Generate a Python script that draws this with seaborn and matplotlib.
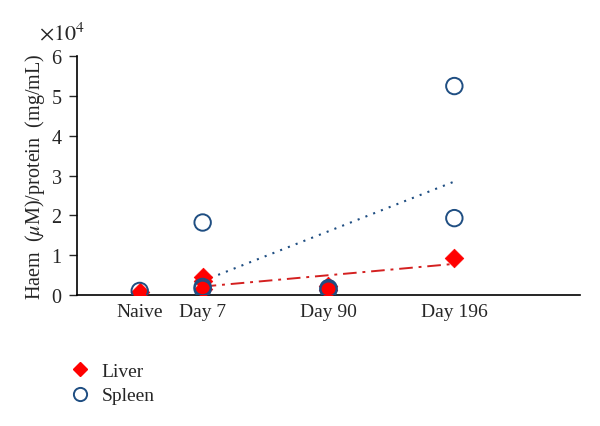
import matplotlib
matplotlib.use("Agg")
import matplotlib.pyplot as plt
import seaborn as sns
import pandas as pd
from matplotlib.ticker import FuncFormatter, MultipleLocator
from matplotlib.lines import Line2D

sns.set_style("white")
plt.rcParams['font.family'] = ['Liberation Serif', 'DejaVu Serif']
plt.rcParams['mathtext.fontset'] = 'stix'

# categories and their positions on the axis
categories = ["Naive", "Day 7", "Day 90", "Day 196"]
cat_pos = [1, 2, 4, 6]

# Haem/protein values (raw units)
liver_group = ["Naive", "Day 7", "Day 7", "Day 7", "Day 90", "Day 90", "Day 196"]
liver_vals = [700, 4600, 3600, 1500, 2200, 1200, 9300]
spleen_group = ["Naive", "Day 7", "Day 7", "Day 7", "Day 90", "Day 90", "Day 196", "Day 196"]
spleen_vals = [1000, 18200, 2000, 1500, 1700, 1300, 52500, 19300]

# trend lines (Day 7 -> Day 196)
trend_group = ["Day 7", "Day 196"]
liver_trend = [2100, 7800]
spleen_trend = [3500, 28500]

posmap = dict(zip(categories, cat_pos))
df = pd.concat([
    pd.DataFrame({"x": [posmap[g] for g in liver_group], "y": liver_vals, "tissue": "Liver"}),
    pd.DataFrame({"x": [posmap[g] for g in spleen_group], "y": spleen_vals, "tissue": "Spleen"}),
], ignore_index=True)
tr_l = pd.DataFrame({"x": [posmap[g] for g in trend_group], "y": liver_trend})
tr_s = pd.DataFrame({"x": [posmap[g] for g in trend_group], "y": spleen_trend})

red = "#ff0000"
blue = "#1f4e82"

fig = plt.figure(figsize=(6, 4.27), dpi=100)
ax = fig.add_axes([0.128, 0.307, 0.839, 0.559])

sns.lineplot(data=tr_s, x="x", y="y", ax=ax, color=blue, linestyle=(0, (1, 3)), linewidth=1.5)
sns.lineplot(data=tr_l, x="x", y="y", ax=ax, color="#d42020", linestyle=(0, (7, 3, 1.5, 3)), linewidth=1.4)

sns.scatterplot(data=df[df.tissue == "Liver"], x="x", y="y", ax=ax, marker="D",
                color=red, edgecolor=red, s=90, linewidth=0.5, zorder=3)
sns.scatterplot(data=df[df.tissue == "Spleen"], x="x", y="y", ax=ax, marker="o",
                facecolor="none", edgecolor=blue, s=140, linewidth=1.4, zorder=4)

ax.set_xlim(0, 8)
ax.set_ylim(0, 60000)
ax.yaxis.set_major_locator(MultipleLocator(10000))
ax.yaxis.set_major_formatter(FuncFormatter(lambda v, p: f"{v/1e4:g}"))
ax.set_xticks(cat_pos)
ax.set_xticklabels(categories)
ax.tick_params(axis='x', length=0, labelsize=14, pad=6)
ax.tick_params(axis='y', length=6, width=1, direction='out', labelsize=14.5, left=True, pad=5)
for s in ["top", "right"]:
    ax.spines[s].set_visible(False)
for s in ["left", "bottom"]:
    ax.spines[s].set_color("black")
    ax.spines[s].set_linewidth(1.2)
ax.set_xlabel("")
ax.set_ylabel(r"Haem  ($\mu$M)/protein  (mg/mL)", fontsize=14.5, labelpad=3)
ax.text(-0.075, 1.05, r"$\times10^{4}$", transform=ax.transAxes, fontsize=16, ha="left", va="bottom")

handles = [
    Line2D([], [], marker="D", color=red, linestyle="none", markersize=7.5),
    Line2D([], [], marker="o", markerfacecolor="none", markeredgecolor=blue,
           markeredgewidth=1.4, linestyle="none", markersize=9.5),
]
fig.legend(handles, ["Liver", "Spleen"], loc="upper left", bbox_to_anchor=(0.085, 0.19),
           frameon=False, fontsize=14, handletextpad=0.5, labelspacing=0.35, handlelength=1.2)

fig.savefig("out.png", dpi=100)
